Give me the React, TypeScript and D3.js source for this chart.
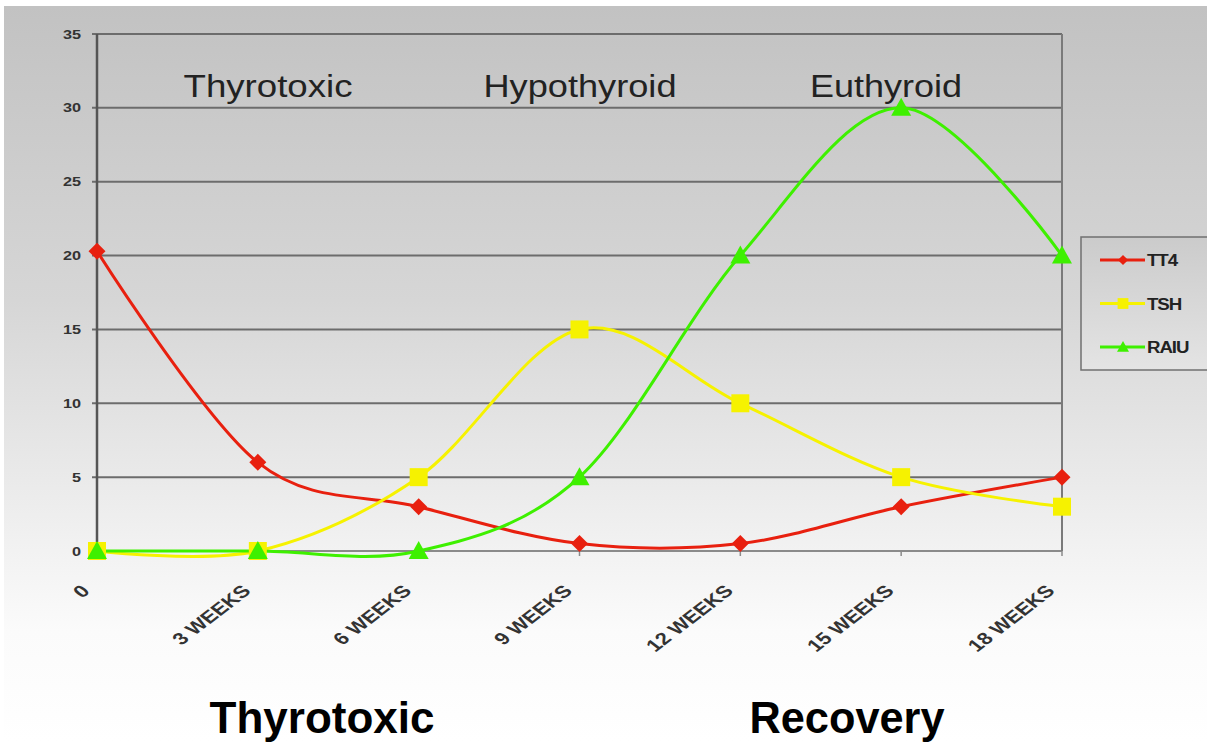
import * as d3 from 'd3';

const W = 1207;
const H = 742;
const PLOT = { left: 97, right: 1062, top: 34, bottom: 551 };

const categories = ['0', '3 WEEKS', '6 WEEKS', '9 WEEKS', '12 WEEKS', '15 WEEKS', '18 WEEKS'];
const tt4 = [20.3, 6, 3, 0.5, 0.5, 3, 5];
const tsh = [0, 0, 5, 15, 10, 5, 3];
const raiu = [0, 0, 0, 5, 20, 30, 20];
const yTicks = [0, 5, 10, 15, 20, 25, 30, 35];

const phaseTitles = [
  { label: 'Thyrotoxic', cx: 268, len: 169 },
  { label: 'Hypothyroid', cx: 580, len: 193 },
  { label: 'Euthyroid', cx: 886, len: 152 },
];
const bottomTitles = [
  { label: 'Thyrotoxic', cx: 322, len: 225 },
  { label: 'Recovery', cx: 847, len: 195 },
];

const RED = '#e8200f';
const YELLOW = '#f6f200';
const GREEN = '#3ef000';
const GRID = '#6c6c6c';
const FONT = '"Liberation Sans", Arial, sans-serif';

type Marker = 'diamond' | 'square' | 'triangle';

const series: { name: string; values: number[]; color: string; marker: Marker }[] = [
  { name: 'TT4', values: tt4, color: RED, marker: 'diamond' },
  { name: 'TSH', values: tsh, color: YELLOW, marker: 'square' },
  { name: 'RAIU', values: raiu, color: GREEN, marker: 'triangle' },
];

function markerPath(m: Marker): string {
  if (m === 'diamond') return 'M0,-8.5L8.5,0L0,8.5L-8.5,0Z';
  if (m === 'square') return 'M-9,-9H9V9H-9Z';
  return 'M0,-10L10,8H-10Z';
}

export default function App() {
  const x = d3.scalePoint<string>().domain(categories).range([PLOT.left, PLOT.right]);
  const y = d3.scaleLinear().domain([0, 35]).range([PLOT.bottom, PLOT.top]);

  const line = d3
    .line<number>()
    .x((_, i) => x(categories[i]) as number)
    .y((d) => y(d))
    .curve(d3.curveCardinal.tension(0));

  return (
    <svg
      width={W}
      height={H}
      style={{ position: 'absolute', left: 0, top: 0, fontFamily: FONT }}
    >
      <defs>
        <linearGradient id="bg" x1="0" y1="0" x2="0" y2="1">
          <stop offset="0%" stopColor="#c2c2c2" />
          <stop offset="40%" stopColor="#d6d6d6" />
          <stop offset="85%" stopColor="#fbfbfb" />
          <stop offset="100%" stopColor="#ffffff" />
        </linearGradient>
        <linearGradient id="legbg" x1="0" y1="0" x2="0" y2="1">
          <stop offset="0%" stopColor="#cbcbcb" />
          <stop offset="100%" stopColor="#e4e4e4" />
        </linearGradient>
      </defs>
      <rect x={0} y={0} width={W} height={H} fill="#ffffff" />
      <rect x={4} y={6} width={W - 4} height={H - 6} fill="url(#bg)" />

      {/* gridlines */}
      {yTicks.map((t) => (
        <g key={t}>
          <line
            x1={PLOT.left - 5}
            x2={PLOT.right}
            y1={y(t)}
            y2={y(t)}
            stroke={t === 0 ? '#8a8a8a' : GRID}
            strokeWidth={2}
          />
          <text
            transform={`translate(${PLOT.left - 16},${y(t) + 4.5}) scale(1.25,1)`}
            textAnchor="end"
            fontSize={13}
            fontWeight="bold"
            fill="#333"
          >
            {t}
          </text>
        </g>
      ))}
      <line x1={PLOT.left} x2={PLOT.left} y1={PLOT.top} y2={PLOT.bottom} stroke="#555" strokeWidth={2.5} />
      <line x1={PLOT.right} x2={PLOT.right} y1={PLOT.top} y2={PLOT.bottom} stroke="#7a7a7a" strokeWidth={2} />

      {/* x ticks */}
      {categories.map((c) => (
        <g key={c}>
          <line
            x1={x(c) as number}
            x2={x(c) as number}
            y1={PLOT.bottom}
            y2={PLOT.bottom + 5}
            stroke="#8a8a8a"
            strokeWidth={1.5}
          />
          <text
            transform={`translate(${(x(c) as number) - 6},${PLOT.bottom + 41}) scale(1.3,1) rotate(-45)`}
            textAnchor="end"
            fontSize={17}
            fontWeight="bold"
            fill="#333"
          >
            {c}
          </text>
        </g>
      ))}

      {/* phase titles */}
      {phaseTitles.map((p) => (
        <text
          key={p.label}
          x={p.cx - p.len / 2}
          y={97}
          fontSize={32}
          textLength={p.len}
          lengthAdjust="spacingAndGlyphs"
          fill="#222"
        >
          {p.label}
        </text>
      ))}

      {/* series */}
      {series.map((s) => (
        <path
          key={s.name}
          d={line(s.values) as string}
          fill="none"
          stroke={s.color}
          strokeWidth={3}
          strokeLinejoin="round"
        />
      ))}
      {series.map((s) =>
        s.values.map((v, i) => (
          <path
            key={`${s.name}-${i}`}
            d={markerPath(s.marker)}
            transform={`translate(${x(categories[i])},${y(v)})`}
            fill={s.color}
          />
        ))
      )}

      {/* legend */}
      <rect x={1081} y={237} width={140} height={133} fill="url(#legbg)" stroke="#707070" strokeWidth={1.5} />
      {series.map((s, i) => {
        const ly = 260 + i * 43.5;
        return (
          <g key={s.name}>
            <line x1={1100} x2={1145} y1={ly} y2={ly} stroke={s.color} strokeWidth={3} />
            <path d={markerPath(s.marker)} transform={`translate(1123,${ly}) scale(0.6)`} fill={s.color} />
            <text
              transform={`translate(1147,${ly + 6}) scale(1.1,1)`}
              fontSize={17}
              fontWeight="bold"
              letterSpacing={-1}
              fill="#222"
            >
              {s.name}
            </text>
          </g>
        );
      })}

      {/* bottom titles */}
      {bottomTitles.map((b) => (
        <text
          key={b.label}
          x={b.cx - b.len / 2}
          y={733}
          fontSize={44}
          fontWeight="bold"
          textLength={b.len}
          lengthAdjust="spacingAndGlyphs"
          fill="#000"
        >
          {b.label}
        </text>
      ))}
    </svg>
  );
}
